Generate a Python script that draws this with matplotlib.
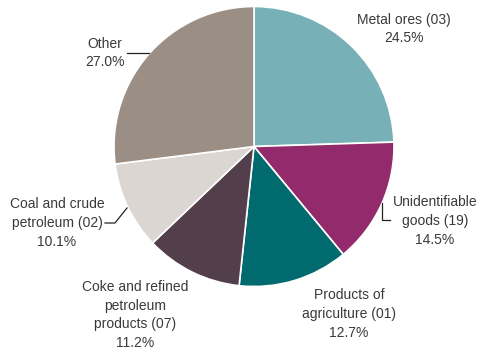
import matplotlib
matplotlib.use("Agg")
import matplotlib.pyplot as plt

plt.rcParams['font.family'] = ['Liberation Sans', 'DejaVu Sans']

categories = ["Metal ores (03)", "Unidentifiable\ngoods (19)", "Products of\nagriculture (01)",
              "Coke and refined\npetroleum\nproducts (07)", "Coal and crude\npetroleum (02)", "Other"]
shares = [24.5, 14.5, 12.7, 11.2, 10.1, 27.0]
colors = ["#78b0b7", "#932a6b", "#006a6e", "#533f4b", "#dcd6d2", "#9b8e84"]

W, H = 478, 349
fig = plt.figure(figsize=(W / 100, H / 100), dpi=100)
ax = fig.add_axes([0, 0, 1, 1])

cx, cy, r = 254, H - 146.5, 140
ax.pie(shares, colors=colors, startangle=90, counterclock=False,
       center=(cx, cy), radius=r, frame=True,
       wedgeprops=dict(edgecolor='white', linewidth=1.2))
ax.set_xlim(0, W)
ax.set_ylim(0, H)
ax.set_aspect('equal')
ax.axis('off')

# label positions in pixel coords (x, y from top)
label_pos = [(404, 29), (435, 221), (349, 314), (135, 315), (57, 223), (105, 53)]
for name, val, (x, y) in zip(categories, shares, label_pos):
    ax.text(x, H - y, f"{name}\n{val:.1f}%", ha='center', va='center',
            fontsize=10, color='#3a3a3a', linespacing=1.45)

# leader lines
lc = '#222222'
ax.plot([382, 382, 390], [H - 203, H - 220, H - 220], color=lc, lw=0.9)
ax.plot([105, 115, 127], [H - 223, H - 223, H - 208], color=lc, lw=0.9)
ax.plot([127, 149], [H - 53, H - 53], color=lc, lw=0.9)

fig.savefig("out.png", dpi=100)
